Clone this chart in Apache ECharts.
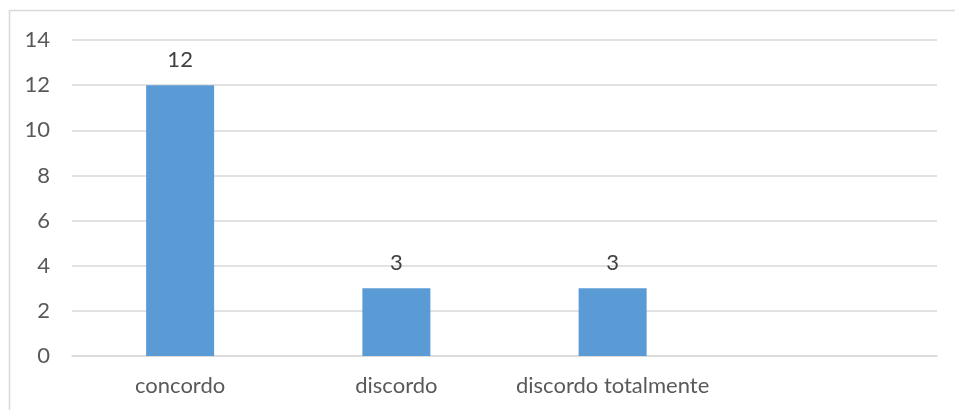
<!DOCTYPE html>
<html>
<head>
<meta charset="utf-8">
<script src="https://cdn.jsdelivr.net/npm/echarts@6/dist/echarts.min.js"></script>
<style>
html,body{margin:0;padding:0;background:#fff;}
#pic{width:955px;height:410px;}
</style>
</head>
<body>
<div id="pic"></div>
<script>
var categories = ['concordo', 'discordo', 'discordo totalmente', ''];
var values = [12, 3, 3, null];
var yTicks = [0, 14, 2]; // min, max, step

var chart = echarts.init(document.getElementById('pic'));
var font = 'Lato, Open Sans, sans-serif';
var option = {
  backgroundColor: '#fff',
  animation: false,
  graphic: [{
    type: 'rect',
    shape: { x: 9.5, y: 10.5, width: 1000, height: 500 },
    style: { fill: 'none', stroke: '#d9d9d9', lineWidth: 1.5 },
    silent: true
  }],
  grid: {
    left: 72,
    right: 18,
    top: 40,
    bottom: 54,
    containLabel: false
  },
  xAxis: {
    type: 'category',
    data: categories,
    axisLine: { show: true, lineStyle: { color: '#d9d9d9', width: 1.5 } },
    axisTick: { show: false },
    axisLabel: {
      color: '#595959',
      fontFamily: font,
      fontSize: 22,
      margin: 19,
      interval: 0
    }
  },
  yAxis: {
    type: 'value',
    min: yTicks[0],
    max: yTicks[1],
    interval: yTicks[2],
    axisLine: { show: false },
    axisTick: { show: false },
    splitLine: { lineStyle: { color: '#d9d9d9', width: 1.5 } },
    axisLabel: {
      color: '#595959',
      fontFamily: font,
      fontSize: 22,
      margin: 22
    }
  },
  series: [{
    type: 'bar',
    data: values,
    barWidth: 68,
    itemStyle: { color: '#5b9bd5' },
    label: {
      show: true,
      position: 'top',
      distance: 14,
      color: '#404040',
      fontFamily: font,
      fontSize: 22
    }
  }]
};
chart.setOption(option);
</script>
</body>
</html>
